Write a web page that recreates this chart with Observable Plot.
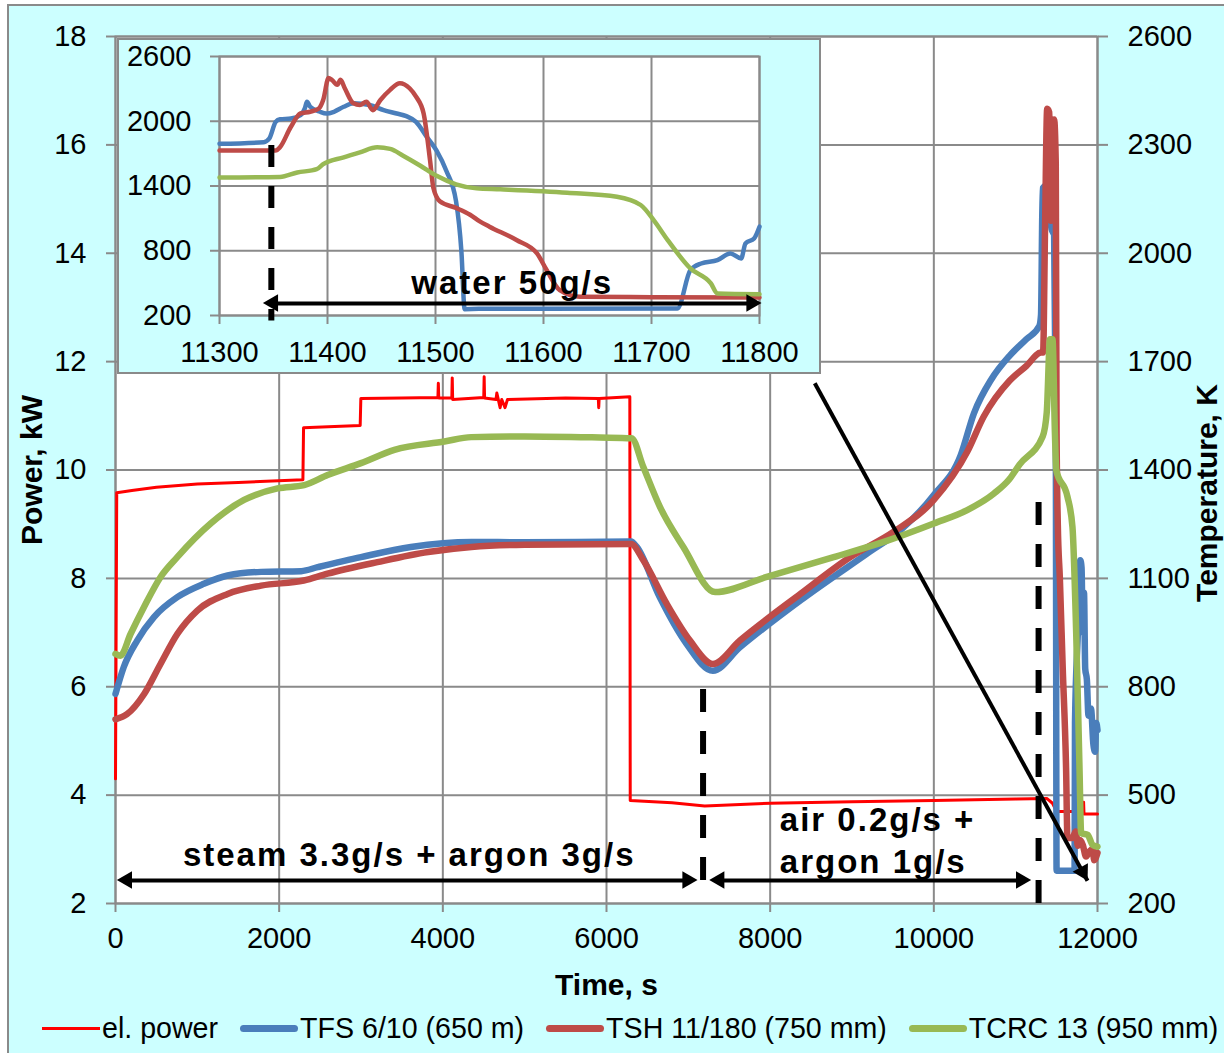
<!DOCTYPE html>
<html>
<head>
<meta charset="utf-8">
<script src="https://cdn.jsdelivr.net/npm/d3@7"></script>
<script src="https://cdn.jsdelivr.net/npm/@observablehq/plot@0.6"></script>
<style>
  body { margin: 0; background: #ffffff; }
  #chart { position: relative; width: 1224px; height: 1053px; overflow: hidden; font-family: "Liberation Sans", Arial, sans-serif; }
  #bg { position: absolute; left: 7px; top: 4px; width: 1300px; height: 1100px; background: #CCFFFF; border: 2px solid #8a8a8a; box-sizing: border-box; }
  #main { position: absolute; left: 0; top: 0; }
  #insetBox { position: absolute; left: 117px; top: 38px; border: 2px solid #8a8a8a; width: 700px; height: 332px; background: #CCFFFF; }
  #insetBox svg { display: block; }
  #legend { position: absolute; left: 42px; top: 1012px; display: flex; align-items: center; font-size: 28.6px; color: #000; white-space: nowrap; }
  .item { display: flex; align-items: center; margin-right: 22px; }
  .sw { width: 58px; margin-right: 2px; }
  g[aria-description="annot"] text { letter-spacing: 2px; }
</style>
</head>
<body>
<div id="chart">
  <div id="bg"></div>
  <div id="main"></div>
  <div id="insetBox"></div>
  <div id="legend"></div>
</div>
<script>
// ---------- axes / ticks ----------
const xTicksMain = [0, 2000, 4000, 6000, 8000, 10000, 12000];
const yTicksPower = [2, 4, 6, 8, 10, 12, 14, 16, 18];
const xTicksInset = [11300, 11400, 11500, 11600, 11700, 11800];
const yTicksInset = [200, 800, 1400, 2000, 2600];

// ---------- series names / colours ----------
const seriesNames = ["el. power", "TFS 6/10 (650 m)", "TSH 11/180 (750 mm)", "TCRC 13 (950 mm)"];
const seriesColors = ["#FF0000", "#4a7ebb", "#be4b48", "#98b954"];

// ---------- main chart: el. power [time s, kW] ----------
const elPower = [
  [0, 4.3], [15, 9.58], [200, 9.62], [500, 9.68], [1000, 9.74], [1500, 9.77], [2290, 9.82],
  [2298, 10.78], [2600, 10.8], [2990, 10.82], [2998, 11.32], [3500, 11.33], [3940, 11.34],
  [3945, 11.6], [3950, 11.33], [4110, 11.33], [4115, 11.7], [4120, 11.3], [4500, 11.34],
  [4505, 11.72], [4510, 11.33], [4650, 11.3], [4660, 11.42], [4700, 11.15], [4720, 11.3],
  [4760, 11.15], [4790, 11.3], [5500, 11.33], [5900, 11.32], [5905, 11.15], [5910, 11.32],
  [6285, 11.35], [6290, 3.9], [6800, 3.86], [7200, 3.8], [8000, 3.85], [9000, 3.88],
  [10000, 3.9], [11000, 3.93], [11380, 3.94], [11450, 3.85], [11500, 3.7], [11800, 3.7],
  [11805, 3.87], [11830, 3.87], [11835, 3.65], [12000, 3.65]
];

// ---------- main chart: temperatures [time s, K] ----------
const tfsMain = [
  [0, 780], [100, 854], [265, 928], [470, 993], [755, 1048], [1080, 1085], [1370, 1108],
  [1780, 1118], [2270, 1120], [2470, 1131], [3000, 1159], [3610, 1187], [4350, 1201],
  [5000, 1200], [6300, 1202], [6370, 1187], [6650, 1048], [6980, 918], [7300, 844],
  [7630, 909], [8370, 1039], [9180, 1168], [9590, 1233], [10000, 1331], [10330, 1442],
  [10490, 1557], [10700, 1650], [10925, 1716], [11130, 1762], [11290, 1799], [11310, 1830],
  [11330, 2180], [11400, 2190], [11420, 2100], [11440, 2066], [11470, 2050], [11490, 1550],
  [11500, 291], [11720, 291], [11725, 700], [11760, 950], [11790, 1150], [11805, 1130],
  [11820, 950], [11835, 1060], [11850, 850], [11870, 820], [11890, 720], [11920, 740],
  [11950, 640], [11970, 620], [11985, 700], [12000, 680]
];
const tshMain = [
  [0, 710], [140, 724], [350, 780], [550, 863], [755, 946], [1000, 1011], [1370, 1057],
  [1780, 1080], [2300, 1094], [2590, 1113], [3200, 1145], [3820, 1173], [4350, 1187],
  [5000, 1193], [6300, 1195], [6450, 1150], [6735, 1030], [7020, 928], [7300, 863],
  [7630, 928], [8370, 1057], [8980, 1159], [9510, 1229], [10000, 1317], [10410, 1451],
  [10610, 1548], [10925, 1647], [11130, 1688], [11310, 1725], [11335, 1725], [11360, 2085],
  [11385, 2400], [11410, 2390], [11430, 2090], [11450, 2300], [11470, 2370], [11490, 2250],
  [11500, 1500], [11515, 1250], [11540, 1100], [11575, 853], [11616, 575], [11633, 381],
  [11690, 381], [11735, 399], [11760, 360], [11790, 375], [11820, 362], [11860, 330],
  [11900, 344], [11940, 350], [11960, 320], [12000, 340]
];
const tcrcMain = [
  [0, 891], [60, 886], [184, 946], [347, 1020], [551, 1104], [755, 1159], [1163, 1252],
  [1571, 1317], [1980, 1349], [2306, 1358], [2592, 1386], [3000, 1419], [3408, 1456],
  [4020, 1479], [4347, 1491], [5000, 1493], [5918, 1490], [6306, 1488], [6449, 1409],
  [6653, 1298], [6939, 1187], [7327, 1062], [7959, 1104], [8776, 1159], [9388, 1201],
  [10000, 1252], [10408, 1289], [10735, 1335], [10925, 1375], [11047, 1415], [11330, 1493],
  [11380, 1560], [11420, 1762], [11450, 1762], [11480, 1500], [11496, 1400], [11633, 1326],
  [11694, 1242], [11740, 946], [11780, 575], [11800, 395], [11880, 390], [11940, 362],
  [12000, 357]
];

// ---------- inset: temperatures [time s, K] ----------
const tfsInset = [
  [11300, 1791], [11341, 1806], [11346, 1838], [11352, 1994], [11356, 2019], [11366, 2025],
  [11375, 2056], [11379, 2119], [11381, 2181], [11384, 2134], [11393, 2088], [11399, 2072],
  [11406, 2088], [11415, 2134], [11424, 2166], [11439, 2150], [11452, 2103], [11464, 2072],
  [11473, 2047], [11482, 1994], [11492, 1853], [11501, 1728], [11510, 1541], [11519, 1259],
  [11524, 791], [11527, 259], [11540, 262], [11600, 262], [11724, 265], [11736, 620],
  [11746, 682], [11761, 713], [11773, 775], [11783, 729], [11787, 868], [11795, 914],
  [11800, 1023]
];
const tshInset = [
  [11300, 1728], [11352, 1728], [11356, 1759], [11366, 1947], [11375, 2072], [11384, 2088],
  [11392, 2119], [11396, 2197], [11401, 2400], [11404, 2384], [11409, 2338], [11412, 2384],
  [11416, 2306], [11424, 2166], [11430, 2150], [11436, 2181], [11442, 2103], [11449, 2197],
  [11458, 2291], [11467, 2353], [11476, 2306], [11482, 2228], [11489, 2072], [11495, 1634],
  [11498, 1384], [11504, 1259], [11519, 1197], [11532, 1134], [11541, 1072], [11550, 1023],
  [11575, 899], [11594, 775], [11603, 620], [11615, 435], [11634, 373], [11700, 370],
  [11800, 367]
];
const tcrcInset = [
  [11300, 1478], [11356, 1484], [11372, 1525], [11390, 1556], [11396, 1603], [11415, 1666],
  [11430, 1712], [11446, 1759], [11458, 1744], [11470, 1681], [11486, 1588], [11501, 1494],
  [11519, 1416], [11538, 1378], [11560, 1369], [11622, 1338], [11668, 1301], [11690, 1224],
  [11702, 1084], [11715, 899], [11736, 636], [11755, 497], [11761, 404], [11800, 398]
];

// ---------- annotations (data coordinates) ----------
const dashMain = [{t: 7180, p1: 5.95, p2: 2.3}, {t: 11280, p1: 9.4, p2: 2}];
const arrowsMain = [{t1: 146, t2: 6995, p: 2.425}, {t1: 7385, t2: 11072, p: 2.425}];
const diagArrow = [{t1: 8545, p1: 11.6, t2: 11878, p2: 2.42}];
const labelSteam = [{t: 3589, p: 2.89, text: "steam 3.3g/s + argon 3g/s"}];
const labelsAir = [
  {t: 8118, p: 3.53, text: "air 0.2g/s +"},
  {t: 8118, p: 2.76, text: "argon 1g/s"}
];
const dashInset = [{t: 11348, k1: 1775, k2: 150}];
const arrowInset = [{t1: 11350, t2: 11793, k: 311}];
const labelInset = [{t: 11571, k: 500, text: "water 50g/s"}];

// ---------- helpers ----------
const GRID = "#8a8a8a";
const FONT = "'Liberation Sans', Arial, sans-serif";
const toP = T => 2 + (T - 200) / 150;      // K -> power-axis units (right axis mapping)
const toT = p => 200 + (p - 2) * 150;

function heads(arr, x1, x2, y) {
  const out = [];
  for (const a of arr) {
    out.push({x: a[x1], y: a[y], rot: -90, dx: 10});
    out.push({x: a[x2], y: a[y], rot: 90, dx: -10});
  }
  return out;
}

// ---------- main plot ----------
const headsMain = heads(arrowsMain, "t1", "t2", "p");
const dAng = 61.2;
const diagHead = diagArrow.map(d => ({x: d.t2, y: d.p2}));
const tempLine = (data, color) => Plot.line(data, {
  x: d => d[0], y: d => toP(d[1]), stroke: color, strokeWidth: 6.5,
  strokeLinejoin: "round", strokeLinecap: "round", curve: "monotone-x"
});

const main = Plot.plot({
  width: 1224,
  height: 1000,
  marginLeft: 115,
  marginRight: 127,
  marginTop: 36,
  marginBottom: 97,
  x: {domain: [0, 12000]},
  y: {domain: [2, 18]},
  style: {background: "transparent", fontFamily: FONT, fontSize: "29px", color: "#000", overflow: "visible"},
  marks: [
    Plot.frame({fill: "white", stroke: null}),
    Plot.gridX(xTicksMain, {stroke: GRID, strokeOpacity: 1, strokeWidth: 2}),
    Plot.gridY(yTicksPower, {stroke: GRID, strokeOpacity: 1, strokeWidth: 2}),
    Plot.frame({stroke: GRID, strokeWidth: 2}),
    Plot.axisX(xTicksMain, {tickSize: 9, tickPadding: 15, stroke: GRID, strokeWidth: 2, fill: "#000", label: null, fontSize: 29, tickFormat: d => String(d)}),
    Plot.axisY(yTicksPower, {anchor: "left", tickSize: 9, tickPadding: 20, stroke: GRID, strokeWidth: 2, fill: "#000", label: null, fontSize: 29, tickFormat: d => String(d)}),
    Plot.axisY(yTicksPower, {anchor: "right", tickSize: 10, tickPadding: 20, stroke: GRID, strokeWidth: 2, fill: "#000", label: null, fontSize: 29, tickFormat: d => String(toT(d))}),
    Plot.line(elPower, {x: d => d[0], y: d => d[1], stroke: seriesColors[0], strokeWidth: 3}),
    tempLine(tfsMain, seriesColors[1]),
    tempLine(tshMain, seriesColors[2]),
    tempLine(tcrcMain, seriesColors[3]),
    Plot.ruleX(dashMain, {x: "t", y1: "p1", y2: "p2", stroke: "#000", strokeWidth: 6, strokeDasharray: "23,19"}),
    Plot.link(arrowsMain, {x1: "t1", x2: "t2", y1: "p", y2: "p", stroke: "#000", strokeWidth: 4}),
    Plot.dot(headsMain, {x: "x", y: "y", dx: "dx", rotate: "rot", symbol: "triangle", r: 6.5, fill: "#000", stroke: null}),
    Plot.link(diagArrow, {x1: "t1", y1: "p1", x2: "t2", y2: "p2", stroke: "#000", strokeWidth: 4}),
    Plot.dot(diagHead, {x: "x", y: "y", dx: -10 * Math.cos(dAng * Math.PI / 180), dy: -10 * Math.sin(dAng * Math.PI / 180), rotate: dAng + 90, symbol: "triangle", r: 6.5, fill: "#000", stroke: null}),
    Plot.text(labelSteam, {x: "t", y: "p", text: "text", textAnchor: "middle", lineAnchor: "middle", fontSize: 33, fontWeight: "bold", fill: "#000", ariaDescription: "annot"}),
    Plot.text(labelsAir, {x: "t", y: "p", text: "text", textAnchor: "start", lineAnchor: "middle", fontSize: 33, fontWeight: "bold", fill: "#000", ariaDescription: "annot"}),
    Plot.text(["Power, kW"], {frameAnchor: "left", dx: -83, rotate: -90, textAnchor: "middle", lineAnchor: "middle", fontSize: 30, fontWeight: "bold", fill: "#000"}),
    Plot.text(["Temperature, K"], {frameAnchor: "right", dx: 110, dy: 23, rotate: -90, textAnchor: "middle", lineAnchor: "middle", fontSize: 30, fontWeight: "bold", fill: "#000"}),
    Plot.text(["Time, s"], {frameAnchor: "bottom", dy: 82, textAnchor: "middle", lineAnchor: "middle", fontSize: 30, fontWeight: "bold", fill: "#000"})
  ]
});
document.getElementById("main").appendChild(main);

// ---------- inset plot ----------
const headsInset = heads(arrowInset, "t1", "t2", "k");
const insetLine = (data, color) => Plot.line(data, {
  x: d => d[0], y: d => d[1], stroke: color, strokeWidth: 4.5,
  strokeLinejoin: "round", strokeLinecap: "round", curve: "monotone-x"
});
const inset = Plot.plot({
  width: 700,
  height: 332,
  marginLeft: 100,
  marginRight: 60,
  marginTop: 16,
  marginBottom: 57,
  x: {domain: [11300, 11800]},
  y: {domain: [200, 2600]},
  style: {background: "#CCFFFF", fontFamily: FONT, fontSize: "29px", color: "#000", overflow: "visible"},
  marks: [
    Plot.frame({fill: "white", stroke: null}),
    Plot.gridX(xTicksInset, {stroke: GRID, strokeOpacity: 1, strokeWidth: 2}),
    Plot.gridY(yTicksInset, {stroke: GRID, strokeOpacity: 1, strokeWidth: 2}),
    Plot.frame({stroke: GRID, strokeWidth: 2}),
    Plot.axisX(xTicksInset, {tickSize: 9, tickPadding: 17, stroke: GRID, strokeWidth: 2, fill: "#000", label: null, fontSize: 29, tickFormat: d => String(d)}),
    Plot.axisY(yTicksInset, {anchor: "left", tickSize: 9, tickPadding: 19, stroke: GRID, strokeWidth: 2, fill: "#000", label: null, fontSize: 29, tickFormat: d => String(d)}),
    insetLine(tfsInset, seriesColors[1]),
    insetLine(tshInset, seriesColors[2]),
    insetLine(tcrcInset, seriesColors[3]),
    Plot.ruleX(dashInset, {x: "t", y1: "k1", y2: "k2", stroke: "#000", strokeWidth: 6, strokeDasharray: "22,19"}),
    Plot.link(arrowInset, {x1: "t1", x2: "t2", y1: "k", y2: "k", stroke: "#000", strokeWidth: 4}),
    Plot.dot(headsInset, {x: "x", y: "y", dx: "dx", rotate: "rot", symbol: "triangle", r: 6.5, fill: "#000", stroke: null}),
    Plot.text(labelInset, {x: "t", y: "k", text: "text", textAnchor: "middle", lineAnchor: "middle", fontSize: 33, fontWeight: "bold", fill: "#000", ariaDescription: "annot"})
  ]
});
document.getElementById("insetBox").appendChild(inset);

// ---------- legend ----------
const legend = document.getElementById("legend");
seriesNames.forEach((name, i) => {
  const item = document.createElement("div");
  item.className = "item";
  const sw = document.createElement("div");
  sw.className = "sw";
  sw.style.background = seriesColors[i];
  sw.style.height = i === 0 ? "3px" : "7px";
  sw.style.borderRadius = i === 0 ? "0" : "4px";
  const label = document.createElement("span");
  label.textContent = name;
  item.appendChild(sw);
  item.appendChild(label);
  legend.appendChild(item);
});
</script>
</body>
</html>
